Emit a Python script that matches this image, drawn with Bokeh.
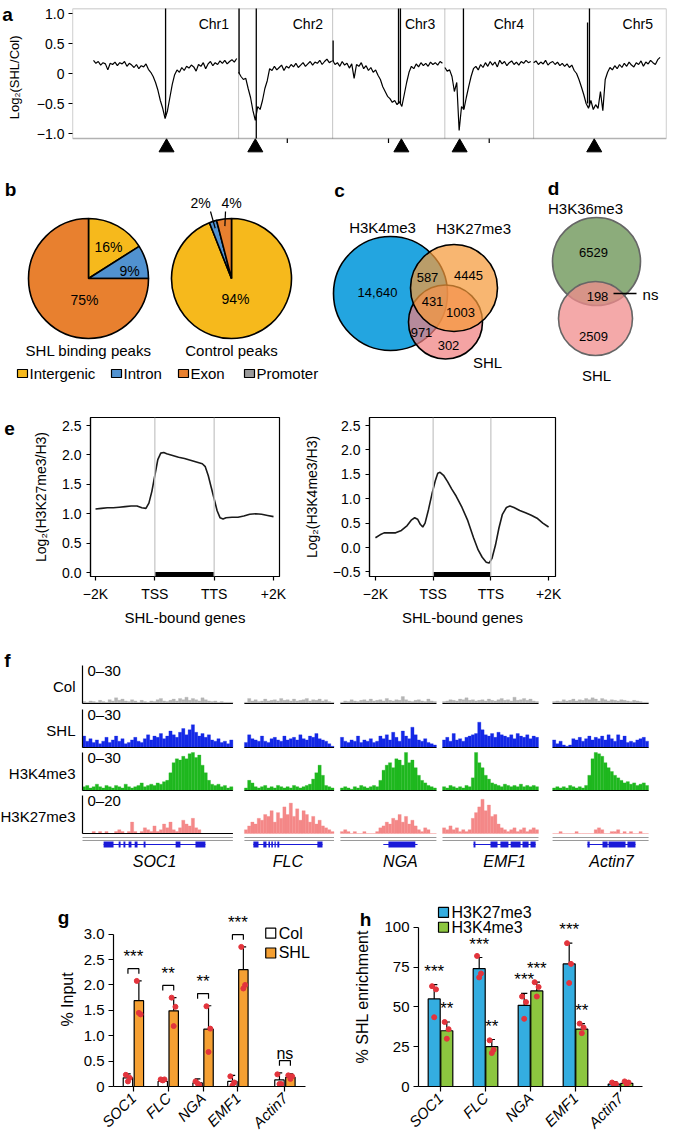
import numpy as np
from bokeh.plotting import figure
from bokeh.models import Range1d, BoxAnnotation, FixedTicker, Span
from bokeh.layouts import column, row
from bokeh.core.properties import value
from bokeh.embed import file_html
from bokeh.resources import INLINE

FONT = "Liberation Sans"

# ======================= DATA =======================
# ---- a: genome-wide log2(SHL/Col), 0.5-Mb bins ----
chrom_names = ["Chr1", "Chr2", "Chr3", "Chr4", "Chr5"]
chrom_len_mb = [30.4, 19.7, 23.5, 18.6, 27.0]
bin_mb = 0.5
chr1_log2 = [0.22, 0.17, 0.20, 0.14, 0.18, 0.16, 0.06, 0.17, 0.15, 0.19, 0.13, 0.18, 0.16, 0.20, 0.12,
             0.17, 0.14, 0.10, 0.15, 0.08, 0.13, 0.11, 0.16, 0.07, 0.02, -0.05, -0.15, -0.28, -0.45,
             -0.58, -0.75, -0.62, -0.40, -0.18, -0.02, 0.06, 0.02, 0.10, 0.05, 0.12, 0.09, 0.14, 0.11,
             0.04, 0.15, 0.12, 0.18, 0.08, 0.16, 0.20, 0.13, 0.18, 0.15, 0.21, 0.17, 0.22, 0.16, 0.20,
             0.23, 0.19, 0.25]
chr2_log2 = [0.02, -0.05, -0.10, -0.08, -0.25, -0.40, -0.62, -0.78, -0.55, -0.60, -0.45, -0.25, -0.12,
             0.08, 0.05, 0.12, 0.06, 0.10, 0.14, 0.05, 0.12, 0.09, 0.15, 0.11, 0.17, 0.10, 0.14, 0.18,
             0.12, 0.16, 0.20, 0.14, 0.19, 0.17, 0.22, 0.15, 0.20, 0.24, 0.18, 0.21]
chr3_log2 = [0.22, 0.15, 0.18, 0.12, 0.20, 0.14, 0.17, 0.09, 0.16, -0.08, 0.15, 0.12, 0.18, 0.08, 0.13,
             0.05, 0.10, 0.02, 0.06, -0.03, -0.10, -0.22, -0.30, -0.38, -0.42, -0.48, -0.45, -0.52,
             -0.47, -0.55, -0.35, -0.15, 0.02, 0.12, 0.08, 0.16, 0.11, 0.18, 0.13, 0.17, 0.12, 0.19,
             0.15, 0.18, 0.14, 0.20, 0.17]
chr4_log2 = [0.10, 0.04, 0.06, -0.05, -0.30, -0.15, -0.95, -0.55, -0.60, -0.40, -0.22, -0.05, 0.08,
             0.12, 0.06, 0.15, 0.10, 0.18, 0.12, 0.20, 0.14, 0.19, 0.11, 0.22, 0.16, 0.20, 0.13, 0.18,
             0.21, 0.15, 0.19, 0.14, 0.20, 0.17, 0.22, 0.18, 0.20]
chr5_log2 = [0.18, 0.21, 0.15, 0.19, 0.16, 0.22, 0.14, 0.18, 0.20, 0.15, 0.19, 0.13, 0.17, 0.12, 0.16,
             0.10, 0.14, 0.05, 0.00, -0.10, -0.22, -0.35, -0.50, -0.58, -0.45, -0.60, -0.52, -0.58,
             -0.30, -0.62, -0.10, 0.02, 0.10, 0.06, 0.13, 0.08, 0.15, 0.10, 0.17, 0.12, 0.19, 0.14,
             0.11, 0.18, 0.15, 0.21, 0.12, 0.19, 0.16, 0.22, 0.18, 0.15, 0.23, 0.27]
chrom_log2 = [chr1_log2, chr2_log2, chr3_log2, chr4_log2, chr5_log2]
centromere_mb = [15.3, 3.5, 14.4, 3.1, 12.7]
spike_chrom = [0, 1, 1, 2, 2, 2, 3, 4, 4]
spike_mb = [15.1, 0.1, 3.7, 0.1, 13.8, 14.2, 3.9, 11.3, 11.7]
spike_low = [-0.70, 0.0, -1.083, 0.2, -0.50, -0.50, -0.60, -0.50, -0.55]
spike_high = [1.3, 1.3, 1.3, 0.55, 1.3, 1.3, 1.3, 0.85, 1.3]
genome_tick_mb = [40.6, 61.8, 82.9]

# ---- b: peak distribution ----
region_names = ["Intergenic", "Intron", "Exon", "Promoter"]
region_colors = ["#f6b91c", "#5192d0", "#e8802f", "#9a9a9a"]
shl_peak_pct = [16, 9, 75, 0]
ctrl_peak_pct = [94, 2, 4, 0]
pie_titles = ["SHL binding peaks", "Control peaks"]

# ---- c / d: overlaps ----
venn3_sets = ["H3K4me3", "H3K27me3", "SHL"]
venn3_regions = ["A", "AB", "B", "ABC", "BC", "AC", "C"]
venn3_counts = [14640, 587, 4445, 431, 1003, 971, 302]
venn2_sets = ["H3K36me3", "SHL"]
venn2_counts = [6529, 198, 2509]
venn2_sig = "ns"

# ---- e: metagene profiles ----
e_xticks = ["\u22122K", "TSS", "TTS", "+2K"]
k27_pos = [0.0, 0.1, 0.2, 0.3, 0.4, 0.5, 0.6, 0.7, 0.78, 0.85, 0.9, 0.95, 1.0, 1.05, 1.1, 1.15, 1.2,
           1.3, 1.4, 1.5, 1.6, 1.7, 1.8, 1.85, 1.9, 1.95, 2.0, 2.05, 2.1, 2.15, 2.2, 2.3, 2.4, 2.5,
           2.6, 2.7, 2.8, 2.9, 3.0]
k27_val = [1.08, 1.09, 1.10, 1.10, 1.11, 1.12, 1.13, 1.13, 1.10, 1.09, 1.18, 1.38, 1.65, 1.92, 2.03,
           2.04, 2.02, 1.99, 1.96, 1.94, 1.91, 1.88, 1.85, 1.80, 1.65, 1.45, 1.25, 1.05, 0.93, 0.91,
           0.93, 0.94, 0.94, 0.96, 0.99, 1.00, 0.99, 0.97, 0.95]
k4_pos = [0.0, 0.08, 0.15, 0.25, 0.35, 0.45, 0.55, 0.62, 0.68, 0.73, 0.78, 0.82, 0.86, 0.92, 0.98,
          1.04, 1.08, 1.12, 1.18, 1.25, 1.32, 1.40, 1.50, 1.60, 1.70, 1.78, 1.85, 1.92, 1.97, 2.02,
          2.08, 2.14, 2.20, 2.27, 2.33, 2.40, 2.50, 2.60, 2.70, 2.80, 2.90, 3.00]
k4_val = [0.20, 0.26, 0.30, 0.30, 0.30, 0.35, 0.45, 0.56, 0.61, 0.58, 0.47, 0.42, 0.50, 0.78, 1.10,
          1.38, 1.52, 1.54, 1.48, 1.35, 1.20, 1.05, 0.82, 0.55, 0.20, -0.05, -0.20, -0.30, -0.32,
          -0.22, 0.05, 0.40, 0.68, 0.82, 0.85, 0.82, 0.76, 0.71, 0.66, 0.60, 0.50, 0.42]

# ---- f: browser tracks ----
f_genes = ["SOC1", "FLC", "NGA", "EMF1", "Actin7"]
track_names = ["Col", "SHL", "H3K4me3", "H3K27me3"]
track_max = [30, 30, 30, 20]
track_colors = ["#b5b5b5", "#1428e6", "#1fb81f", "#f48888"]
col_cov = [
    [1.5, 1, 2, 1.5, 1, 2.5, 1.5, 1, 3, 2, 4.5, 2.5, 3.5, 2, 1.5, 3, 2, 1, 2.5, 1.5, 1, 2, 1.5, 3, 4, 2,
     1.5, 2.5, 3.5, 2, 4, 3, 5, 2.5, 4, 3, 2, 4.5, 3, 2, 1.5, 2, 1, 1.5, 1, 1, 1],
    [1, 4, 2, 3, 1.5, 2, 3.5, 2, 2.5, 3, 2, 4, 2.5, 3, 2, 3.5, 2, 2.5, 3, 4, 2, 3, 2.5, 3.5, 2, 3, 1.5, 1],
    [1, 2, 1.5, 3, 2, 1.5, 2.5, 3, 2, 3.5, 2, 2.5, 3, 2, 4, 2.5, 2, 3, 2.5, 5.5, 3, 2, 1.5, 2.5, 3, 2,
     1.5, 3.5, 2, 1.5],
    [1.5, 2, 3, 2.5, 2, 3.5, 3, 4.5, 2.5, 3, 2, 2.5, 3, 2, 3.5, 2.5, 2, 3, 4, 2.5, 3, 2, 5, 2.5, 3, 4,
     2.5, 3.5, 2, 1.5],
    [1.5, 2, 1.5, 3, 2, 2.5, 3.5, 2, 3, 2.5, 4, 3, 4.5, 3.5, 2, 4, 3, 2, 3, 2.5, 2, 3, 2.5, 2, 1.5, 2.5,
     2, 1.5, 1, 1]]
shl_cov = [
    [9, 5, 7, 4, 6, 3, 5, 8, 4, 6, 9, 5, 7, 3, 4, 6, 8, 5, 4, 7, 10, 6, 9, 8, 11, 7, 9, 13, 10, 8, 12, 15,
     10, 14, 18, 12, 9, 11, 8, 10, 6, 5, 7, 4, 5, 3, 6],
    [4, 10, 7, 6, 5, 9, 5, 4, 7, 8, 6, 5, 9, 6, 7, 8, 6, 10, 7, 6, 9, 8, 11, 7, 6, 5, 3, 1],
    [8, 5, 4, 6, 5, 9, 4, 6, 5, 7, 4, 5, 9, 7, 10, 6, 12, 8, 5, 13, 9, 7, 16, 10, 6, 5, 7, 4, 3, 2],
    [6, 8, 5, 11, 6, 7, 5, 8, 9, 10, 11, 20, 14, 10, 9, 11, 8, 12, 10, 9, 8, 10, 7, 11, 9, 8, 10, 7, 9, 8],
    [6, 3, 5, 2, 1, 2, 7, 6, 8, 5, 7, 9, 6, 8, 7, 9, 6, 10, 7, 5, 10, 6, 9, 4, 5, 4, 6, 7, 8, 5]]
k4_cov = [
    [3, 4, 2, 3, 5, 3, 2, 4, 3, 2, 4, 3, 2, 5, 3, 2, 3, 4, 6, 3, 4, 5, 4, 6, 5, 7, 8, 14, 22, 25, 24, 27,
     25, 29, 30, 26, 28, 20, 14, 8, 5, 4, 5, 3, 4, 2, 3],
    [2, 8, 6, 3, 2, 3, 4, 2, 3, 2, 4, 3, 2, 3, 2, 4, 3, 2, 3, 4, 5, 9, 14, 20, 12, 4, 3, 2],
    [2, 3, 2, 1, 3, 2, 4, 3, 2, 3, 4, 3, 8, 16, 20, 22, 18, 25, 24, 20, 30, 22, 24, 18, 12, 8, 6, 4, 3, 2],
    [3, 2, 4, 3, 2, 3, 2, 4, 3, 10, 30, 22, 18, 12, 9, 6, 5, 4, 3, 5, 4, 3, 4, 3, 5, 3, 4, 3, 4, 3],
    [2, 3, 2, 3, 2, 4, 3, 2, 3, 2, 4, 12, 25, 30, 29, 27, 22, 18, 15, 12, 10, 8, 6, 7, 5, 6, 4, 5, 6, 4]]
k27_cov = [
    [0, 0, 0, 1, 0, 1, 0, 1, 0, 0, 1, 2, 1, 0, 1, 6, 1, 0, 1, 3, 2, 1, 4, 1, 2, 5, 3, 6, 2, 1, 3, 7, 5, 4,
     8, 3, 2, 0, 0, 0, 0, 0, 0, 0, 0, 0, 0],
    [2, 4, 6, 5, 8, 7, 10, 9, 12, 6, 11, 8, 14, 10, 16, 9, 13, 7, 12, 10, 6, 9, 5, 7, 4, 3, 2, 1],
    [1, 2, 1, 0, 1, 0, 0, 1, 0, 0, 0, 1, 3, 4, 6, 5, 8, 7, 10, 6, 9, 5, 7, 4, 2, 1, 3, 2, 0, 0],
    [3, 2, 4, 2, 3, 1, 2, 1, 2, 8, 11, 14, 18, 12, 15, 9, 10, 5, 3, 2, 1, 2, 3, 1, 2, 3, 1, 2, 3, 2],
    [0, 0, 1, 0, 0, 0, 0, 1, 0, 0, 0, 0, 0, 2, 3, 2, 0, 0, 1, 1, 2, 0, 1, 0, 1, 0, 0, 1, 0, 0]]
track_cov = [col_cov, shl_cov, k4_cov, k27_cov]
gene_span = [(6.6, 38.4), (2.8, 24.4), (13.4, 24.1), (9.7, 29.1), (10.9, 25.9)]
gene_exons = [
    [(6.6, 9.7), (11.3, 11.9), (12.8, 13.4), (14.4, 15.3), (16.3, 17.2), (19.1, 19.7), (29.1, 30.6),
     (35.3, 38.4)],
    [(2.8, 4.4), (5.9, 6.9), (7.5, 8.0), (8.4, 8.9), (9.4, 9.8), (10.3, 10.9), (22.8, 24.4)],
    [(15.0, 23.4)],
    [(9.7, 10.3), (15.0, 17.2), (18.1, 20.6), (21.3, 24.4), (25.0, 26.9), (27.5, 29.1)],
    [(10.9, 11.6), (15.6, 17.2), (17.5, 22.8), (23.4, 25.9)]]

# ---- g: ChIP-qPCR, % input ----
qpcr_genes = ["SOC1", "FLC", "NGA", "EMF1", "Actin7"]
g_col_mean = [0.17, 0.10, 0.07, 0.10, 0.13]
g_col_err = [0.08, 0.06, 0.08, 0.12, 0.14]
g_shl_mean = [1.69, 1.49, 1.13, 2.30, 0.18]
g_shl_err = [0.39, 0.26, 0.46, 0.45, 0.07]
g_col_reps = [[0.23, 0.17, 0.10], [0.14, 0.14, 0.12], [0.10, 0.03, 0.06], [0.20, 0.08, 0.02],
              [0.24, 0.05, 0.05]]
g_shl_reps = [[2.08, 1.42, 1.45], [1.75, 1.57, 1.19], [1.58, 1.14, 0.68], [2.75, 2.00, 1.93],
              [0.22, 0.20, 0.15]]
g_sig = ["***", "**", "**", "***", "ns"]

# ---- h: % SHL enrichment ----
h_k27_mean = [55, 74, 51, 77, 1.5]
h_k27_err = [9, 7, 7.5, 13, 1.5]
h_k4_mean = [35, 25, 60, 36, 2]
h_k4_err = [5.5, 4.5, 5.5, 3.5, 1.5]
h_k27_reps = [[63, 61, 43.5], [82, 71, 68.5], [56.5, 53, 42.5], [90, 77, 65], [2.5, 1.5, 0.8]]
h_k4_reps = [[40.5, 36, 30], [29, 23, 21], [65.5, 62.5, 56.5], [39.5, 37, 33.5], [3.2, 2.5, 1.5]]
h_k27_sig = ["***", "***", "***", "***", ""]
h_k4_sig = ["**", "**", "***", "**", ""]

# ======================= HELPERS =======================
def lin(p0, v0, p1, v1):
    k = (v1 - v0) / (p1 - p0)
    return lambda px: v0 + (np.asarray(px, dtype=float) - p0) * k


def style_axis(ax, size=14, label_size=14):
    ax.major_label_text_font = FONT
    ax.major_label_text_font_size = f"{size}px"
    ax.major_label_text_color = "black"
    ax.axis_label_text_font = FONT
    ax.axis_label_text_font_size = f"{label_size}px"
    ax.axis_label_text_font_style = "normal"
    ax.axis_label_text_color = "black"
    ax.minor_tick_line_color = None
    ax.major_tick_in = 0
    ax.major_tick_out = 4
    ax.axis_line_color = "black"
    ax.major_tick_line_color = "black"
    ax.axis_line_width = 1.2
    ax.major_tick_line_width = 1.2


def axis_fig(w, h, xr, yr, left, right, top, bottom, **kw):
    p = figure(width=w, height=h, x_range=Range1d(float(xr[0]), float(xr[1])),
               y_range=Range1d(float(yr[0]), float(yr[1])),
               min_border_left=left, min_border_right=right, min_border_top=top,
               min_border_bottom=bottom, output_backend="svg", toolbar_location=None,
               title=None, **kw)
    p.grid.grid_line_color = None
    p.outline_line_color = None
    for ax in p.axis:
        style_axis(ax)
    return p


def canvas_fig(w, h, xr, yr):
    p = figure(width=w, height=h, x_range=Range1d(float(xr[0]), float(xr[1])),
               y_range=Range1d(float(yr[0]), float(yr[1])), min_border=0,
               x_axis_location=None, y_axis_location=None, output_backend="svg",
               toolbar_location=None, title=None)
    p.grid.grid_line_color = None
    p.outline_line_color = None
    return p


def T(p, x, y, s, size=14, align="center", baseline="middle", color="black", style="normal",
      angle=0.0, **kw):
    xs = list(np.atleast_1d(x).astype(float))
    ys = list(np.atleast_1d(y).astype(float))
    ss = [s] if isinstance(s, str) else list(s)
    p.text(x=xs, y=ys, text=ss, text_font=value(FONT), text_font_size=f"{size}px",
           text_align=align, text_baseline=baseline, text_color=color, text_font_style=style,
           angle=angle, **kw)


def letter(p, x, y, s):
    T(p, x, y, s, size=19, style="bold")


def fmt_count(n):
    return f"{n:,}" if n >= 10000 else str(n)

# ======================= PANEL a =======================
total_mb = float(sum(chrom_len_mb))
offs = np.concatenate([[0.0], np.cumsum(chrom_len_mb)[:-1]])
Xa = lin(93, 0.0, 662, total_mb)
Ya = lin(73, 0.0, 13, 1.0)
sa = canvas_fig(30, 160, (0, 30), (-160, 0))
letter(sa, 7, -7, "a")
T(sa, 14, -75, "Log\u2082(SHL/Col)", size=13, angle=np.pi / 2)
pa = axis_fig(655, 160, (Xa(72), Xa(666)), (Ya(155), Ya(8)), 42, 19, 8, 5, x_axis_location=None)
box_bottom = float(Ya(138))
pa.segment(x0=offs[1:], y0=box_bottom, x1=offs[1:], y1=float(Ya(8)), line_color="#c4c4c4", line_width=1)
for c, vals in enumerate(chrom_log2):
    xs = offs[c] + bin_mb * np.arange(len(vals))
    pa.line(xs, vals, line_color="black", line_width=1.2)
sx = [offs[c] + m for c, m in zip(spike_chrom, spike_mb)]
pa.segment(x0=sx, y0=spike_low, x1=sx, y1=spike_high, line_color="black", line_width=1.3)
pa.add_layout(BoxAnnotation(bottom=box_bottom, fill_color=None, line_color="black", line_width=1.3))
pa.segment(x0=genome_tick_mb, y0=box_bottom, x1=genome_tick_mb, y1=float(Ya(142.5)),
           line_color="black", line_width=1.2)
pa.scatter(x=offs + np.array(centromere_mb), y=[float(Ya(147))] * 5, marker="triangle", size=15,
           color="black")
T(pa, offs + np.array(chrom_len_mb) - 2.0, [float(Ya(23))] * 5, chrom_names, size=14, align="right")
ya = pa.yaxis[0]
ya.ticker = FixedTicker(ticks=[-1, -0.5, 0, 0.5, 1])
ya.major_label_overrides = {-1: "\u22121.0", -0.5: "\u22120.5", 0: "0", 0.5: "0.5", 1: "1.0"}
ya.axis_line_color = None
ya.major_label_standoff = 4

# ======================= PANEL b =======================
pb = canvas_fig(328, 240, (0, 328), (-400, -160))
pie_centers = [(88, 278), (231, 278)]
pie_r = 60
pie_label_off = [[(20, -32), (41, -8), (-4, 21), None], [(4, 20), (-31, -76), (0, -76), None]]
for k, pct in enumerate([shl_peak_pct, ctrl_peak_pct]):
    cx, cy = pie_centers[k]
    frac = np.array(pct, dtype=float) / 100.0
    cum = np.concatenate([[0.0], np.cumsum(frac)])
    keep = frac > 0
    start = np.pi / 2 - cum[1:] * 2 * np.pi
    end = np.pi / 2 - cum[:-1] * 2 * np.pi
    pb.wedge(x=[cx] * int(keep.sum()), y=[-cy] * int(keep.sum()), radius=pie_r,
             start_angle=start[keep], end_angle=end[keep],
             fill_color=[col for col, kk in zip(region_colors, keep) if kk],
             line_color="black", line_width=1.6)
    for j, v in enumerate(pct):
        if v <= 0:
            continue
        dx, dy = pie_label_off[k][j]
        T(pb, cx + dx, -(cy + dy), f"{v}%", size=14)
        if np.hypot(dx, dy) > pie_r:
            mid = (start[j] + end[j]) / 2
            pb.segment(x0=cx + dx + (10 if dx < -10 else -6), y0=-(cy + dy + 9),
                       x1=cx + 0.88 * pie_r * np.cos(mid), y1=-cy + 0.88 * pie_r * np.sin(mid),
                       line_color="black", line_width=1.2)
    T(pb, cx, -350, pie_titles[k], size=15)
legend_x = [22, 116, 183, 249]
pb.rect(x=legend_x, y=[-373] * 4, width=10, height=8, width_units="screen", height_units="screen",
        fill_color=region_colors, line_color="black", line_width=1.2)
T(pb, np.array(legend_x) + 7, [-373] * 4, region_names, size=15, align="left")
letter(pb, 10, -189, "b")

# ======================= PANEL c =======================
pc = canvas_fig(217, 240, (328, 545), (-400, -160))
circ = {"A": (390, 293, 57, "#23a5e0", 1.0), "C": (445, 321.5, 37, "#f08080", 0.72),
        "B": (453.5, 287.5, 43.5, "#f59a3a", 0.72)}
for key in ["A", "C", "B"]:
    x, y, r, col, a = circ[key]
    pc.circle(x=[x], y=[-y], radius=r, fill_color=col, fill_alpha=a, line_color="black",
              line_width=1.6)
region_xy = {"A": (377, 292), "AB": (427, 277), "B": (468, 275), "ABC": (432, 301),
             "BC": (460, 312), "AC": (421, 332), "C": (448, 345)}
for reg, n in zip(venn3_regions, venn3_counts):
    x, y = region_xy[reg]
    T(pc, x, -y, fmt_count(n), size=13)
set_xy = [(382, 227), (473, 228), (487, 362)]
for s, (x, y) in zip(venn3_sets, set_xy):
    T(pc, x, -y, s, size=15)
letter(pc, 339, -190, "c")

# ======================= PANEL d =======================
pdd = canvas_fig(140, 240, (545, 685), (-400, -160))
pdd.circle(x=[596], y=[-261], radius=44, fill_color="#86a874", fill_alpha=0.95, line_color="#666666",
           line_width=1.6)
pdd.circle(x=[595], y=[-318], radius=37, fill_color="#f08c8c", fill_alpha=0.75, line_color="#666666",
           line_width=1.6)
for n, (x, y) in zip(venn2_counts, [(593, 252), (597, 296), (593, 336)]):
    T(pdd, x, -y, fmt_count(n), size=13)
T(pdd, 585, -208, venn2_sets[0], size=15)
T(pdd, 596, -375, venn2_sets[1], size=15)
pdd.segment(x0=[613], y0=[-293], x1=[636], y1=[-293], line_color="black", line_width=1.3)
T(pdd, 650, -294, venn2_sig, size=15)
letter(pdd, 553, -188, "d")

# ======================= PANEL e =======================
def meta_fig(w, xmap, ymap, fl, fr, ylab, ticks, tick_labels, left_border, right_border, xs, ys):
    ft, fb = 417, 576
    p = axis_fig(w, 240, (xmap(fl), xmap(fr)), (ymap(fb), ymap(ft)), left_border, right_border,
                 ft - 400, 640 - fb)
    p.outline_line_color = "black"
    p.outline_line_width = 1.2
    for xx in [1, 2]:
        p.add_layout(Span(location=xx, dimension="height", line_color="#c8c8c8", line_width=1.3))
    p.line(xs, ys, line_color="#1a1a1a", line_width=1.6)
    yb = float(ymap(fb - 2.5))
    p.segment(x0=[1], y0=[yb], x1=[2], y1=[yb], line_color="black", line_width=4)
    xa, yax = p.xaxis[0], p.yaxis[0]
    xa.ticker = FixedTicker(ticks=[0, 1, 2, 3])
    xa.major_label_overrides = {i: s for i, s in enumerate(e_xticks)}
    xa.axis_label = "SHL-bound genes"
    xa.axis_label_text_font_size = "15px"
    xa.major_label_standoff = 5
    xa.axis_label_standoff = 4
    yax.ticker = FixedTicker(ticks=ticks)
    yax.major_label_overrides = tick_labels
    yax.axis_label = ylab
    yax.major_label_standoff = 5
    yax.axis_label_standoff = 10
    return p

se = canvas_fig(20, 240, (0, 20), (-640, -400))
letter(se, 9, -416, "e")
Xe1 = lin(95, 0.0, 273, 3.0)
Ye1 = lin(572, 0.0, 425, 2.5)
ticks1 = [0, 0.5, 1.0, 1.5, 2.0, 2.5]
pe1 = meta_fig(280, Xe1, Ye1, 90, 279, "Log\u2082(H3K27me3/H3)", ticks1,
               {t: f"{t:.1f}" for t in ticks1}, 70, 21, k27_pos, k27_val)
Xe2 = lin(373, 0.0, 548, 3.0)
Ye2 = lin(547, 0.0, 425, 2.5)
ticks2 = [-0.5, 0, 0.5, 1.0, 1.5, 2.0, 2.5]
pe2 = meta_fig(385, Xe2, Ye2, 367, 555, "Log\u2082(H3K4me3/H3)", ticks2,
               {t: (f"{t:.1f}".replace("-", "\u2212")) for t in ticks2}, 67, 130, k4_pos, k4_val)

# ======================= PANEL f =======================
bin_px = 3.2
Xf = lin(82, 0.0, 82 + bin_px, 1.0)
pf = canvas_fig(685, 235, (Xf(0), Xf(685)), (-875, -640))
track_base = [703, 747, 790, 833]
track_h = 38
window_gap = [0, 3.6, 2.0, 1.9, 4.4]
win_len = [len(v) for v in col_cov]
win_start = []
pos = 0.0
for i, L in enumerate(win_len):
    pos += window_gap[i]
    win_start.append(pos)
    pos += L
for k, name in enumerate(track_names):
    B, M = track_base[k], track_max[k]
    rname = f"t{k}"
    pf.extra_y_ranges[rname] = Range1d(start=(B - 875) * M / track_h, end=(B - 640) * M / track_h)
    for i, cov in enumerate(track_cov[k]):
        xs = win_start[i] + np.arange(len(cov)) + 0.5
        pf.vbar(x=xs, top=cov, bottom=0, width=1.0, fill_color=track_colors[k],
                line_color=track_colors[k], line_width=0.3, y_range_name=rname)
        if k < 3 or i == 0:
            pf.segment(x0=[win_start[i]], y0=[0], x1=[win_start[i] + len(cov)], y1=[0],
                       line_color="black", line_width=1.2, y_range_name=rname)
    pf.segment(x0=[0], y0=[0], x1=[0], y1=[M], line_color="black", line_width=1.2,
               y_range_name=rname)
    T(pf, Xf(75), -(B - 17), name, size=15, align="right")
    T(pf, Xf(87), -(B - 33), f"0\u2013{M}", size=15, align="left")
for i, g in enumerate(f_genes):
    s0, L = win_start[i], win_len[i]
    for yy in [837, 840]:
        pf.segment(x0=[s0], y0=[-yy], x1=[s0 + L], y1=[-yy], line_color="#9a9a9a", line_width=1)
    a0, a1 = gene_span[i]
    pf.segment(x0=[s0 + a0], y0=[-844], x1=[s0 + a1], y1=[-844], line_color="#1a1ad8", line_width=1.2)
    ex = gene_exons[i]
    pf.quad(left=[s0 + e[0] for e in ex], right=[s0 + e[1] for e in ex], bottom=[-847] * len(ex),
            top=[-841] * len(ex), fill_color="#1a1ad8", line_color=None)
    T(pf, s0 + (a0 + a1) / 2, -861, g, size=16, style="italic")
letter(pf, Xf(7), -660, "f")

# ======================= PANEL g =======================
group_x = np.arange(len(qpcr_genes), dtype=float)
group_x[-1] += 0.35  # control gene set apart
Xg = lin(132, 0.0, 167, 1.0)
Yg = lin(1088, 0.0, 934, 3.0)
sg = canvas_fig(80, 264, (0, 80), (-1139, -875))
letter(sg, 63, -893, "g")
T(sg, 67, -1012, "% Input", size=16, angle=np.pi / 2)
pg = axis_fig(260, 264, (Xg(112), Xg(320)), (Yg(1088), Yg(905)), 32, 20, 30, 51)
bw_g, off_g = 0.27, 0.157
dot_jit = np.array([-0.06, 0.05, 0.0])
for series, mean, err, reps, col, sgn in [("Col", g_col_mean, g_col_err, g_col_reps, "white", -1),
                                          ("SHL", g_shl_mean, g_shl_err, g_shl_reps, "#f5a033", 1)]:
    bx = group_x + sgn * off_g
    top = np.array(mean) + np.array(err)
    pg.segment(x0=bx, y0=mean, x1=bx, y1=top, line_color="black", line_width=1.2)
    pg.segment(x0=bx - 0.08, y0=top, x1=bx + 0.08, y1=top, line_color="black", line_width=1.2)
    pg.vbar(x=bx, top=mean, bottom=0, width=bw_g, fill_color=col, line_color="black", line_width=1.2)
    dx = np.concatenate([b + dot_jit for b in bx])
    dy = np.concatenate(reps)
    pg.scatter(x=dx, y=dy, size=5, color="#e3343c")
hb = [max(max(a), max(b), m1 + e1, m2 + e2) + 0.24 for a, b, m1, e1, m2, e2 in
      zip(g_col_reps, g_shl_reps, g_col_mean, g_col_err, g_shl_mean, g_shl_err)]
for x, h, s in zip(group_x, hb, g_sig):
    xl, xr = x - off_g, x + off_g
    pg.line([xl, xl, xr, xr], [h - 0.1, h, h, h - 0.1], line_color="black", line_width=1.2)
    if s == "ns":
        T(pg, x, h + 0.14, s, size=16)
    else:
        T(pg, x, h + 0.05, s, size=17, baseline="bottom")
pg.rect(x=[float(Xg(270))] * 2, y=[float(Yg(933)), float(Yg(953))], width=10, height=10,
        width_units="screen", height_units="screen", fill_color=["white", "#f5a033"],
        line_color="black", line_width=1.2)
T(pg, [float(Xg(278))] * 2, [float(Yg(933)), float(Yg(953))], ["Col", "SHL"], size=16, align="left")
gx, gy = pg.xaxis[0], pg.yaxis[0]
gx.ticker = FixedTicker(ticks=list(group_x))
gx.major_label_overrides = {float(x): s for x, s in zip(group_x, qpcr_genes)}
gx.major_label_orientation = np.pi / 4
gx.major_label_text_font_style = "italic"
gx.major_label_text_font_size = "15px"
gx.bounds = (float(Xg(112)), float(Xg(305)))
gy.ticker = FixedTicker(ticks=[0, 0.5, 1.0, 1.5, 2.0, 2.5, 3.0])
gy.major_label_overrides = {0: "0", 0.5: "0.5", 1.0: "1.0", 1.5: "1.5", 2.0: "2.0", 2.5: "2.5", 3.0: "3.0"}
gy.major_label_text_font_size = "15px"
gy.bounds = (0, 3.0)
for ax in (gx, gy):
    ax.major_tick_out = 5
    ax.major_label_standoff = 4

# ======================= PANEL h =======================
Xh = lin(440, 0.0, 485, 1.0)
Yh = lin(1088, 0.0, 927, 100.0)
hx_pos = np.arange(len(qpcr_genes), dtype=float)
sh = canvas_fig(40, 264, (340, 380), (-1139, -875))
letter(sh, 365, -895, "h")
T(sh, 362, -1008, "% SHL enrichment", size=16, angle=np.pi / 2)
ph = axis_fig(305, 264, (Xh(418), Xh(642)), (Yh(1088), Yh(905)), 38, 43, 30, 51)
bw_h, off_h = 0.267, 0.14
for mean, err, reps, sig, col, sgn in [(h_k27_mean, h_k27_err, h_k27_reps, h_k27_sig, "#34ade0", -1),
                                       (h_k4_mean, h_k4_err, h_k4_reps, h_k4_sig, "#8cc63f", 1)]:
    bx = hx_pos + sgn * off_h
    top = np.array(mean) + np.array(err)
    ph.segment(x0=bx, y0=mean, x1=bx, y1=top, line_color="black", line_width=1.2)
    ph.segment(x0=bx - 0.07, y0=top, x1=bx + 0.07, y1=top, line_color="black", line_width=1.2)
    ph.vbar(x=bx, top=mean, bottom=0, width=bw_h, fill_color=col, line_color="black", line_width=1.2)
    dx = np.concatenate([b + dot_jit * 0.8 for b in bx])
    ph.scatter(x=dx, y=np.concatenate(reps), size=5, color="#e3343c")
    for x, t, s in zip(bx, top, sig):
        if s:
            T(ph, x, t + 2.5, s, size=17, baseline="bottom")
ph.rect(x=[float(Xh(443))] * 2, y=[float(Yh(912)), float(Yh(927))], width=10, height=10,
        width_units="screen", height_units="screen", fill_color=["#34ade0", "#8cc63f"],
        line_color="black", line_width=1.2)
T(ph, [float(Xh(451))] * 2, [float(Yh(912)), float(Yh(927))], ["H3K27me3", "H3K4me3"], size=16,
  align="left")
hx, hy = ph.xaxis[0], ph.yaxis[0]
hx.ticker = FixedTicker(ticks=list(hx_pos))
hx.major_label_overrides = {float(x): s for x, s in zip(hx_pos, qpcr_genes)}
hx.major_label_orientation = np.pi / 4
hx.major_label_text_font_style = "italic"
hx.major_label_text_font_size = "15px"
hy.ticker = FixedTicker(ticks=[0, 25, 50, 75, 100])
hy.major_label_text_font_size = "15px"
hy.bounds = (0, 100)
for ax in (hx, hy):
    ax.major_tick_out = 5
    ax.major_label_standoff = 4

layout = column(row(sa, pa), row(pb, pc, pdd), row(se, pe1, pe2), pf,
                row(sg, pg, sh, ph))
open("out.html", "w").write(file_html(layout, INLINE))
